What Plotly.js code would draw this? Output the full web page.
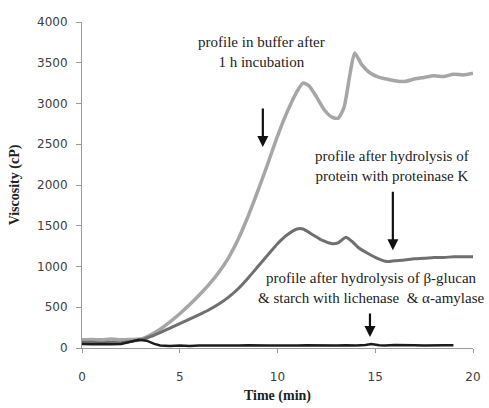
<!DOCTYPE html>
<html><head><meta charset="utf-8">
<script src="https://cdn.plot.ly/plotly-3.0.1.min.js"></script>
<style>body{margin:0;background:#fff}#chart{width:489px;height:408px}</style>
</head><body><div id="chart"></div>
<script>
// Data
const timeBuffer = [0,0.5,1,1.5,2,2.5,3,3.5,4,4.5,5,5.5,6,6.5,7,7.5,8,8.5,9,9.5,10,10.5,11,11.3,11.6,12,12.4,12.8,13.1,13.4,13.7,13.95,14.3,14.7,15.2,15.6,16,16.5,17,17.5,18,18.5,19,19.5,20];
const viscBuffer = [100,105,100,110,100,105,110,160,230,320,420,530,650,780,930,1110,1340,1620,1930,2260,2600,2900,3150,3250,3220,3080,2920,2830,2820,2950,3350,3620,3480,3380,3320,3300,3280,3270,3300,3320,3340,3330,3360,3350,3370];

const timeProtK = [0,0.5,1,1.5,2,2.5,3,3.5,4,4.5,5,5.5,6,6.5,7,7.5,8,8.5,9,9.5,10,10.5,11,11.3,11.8,12.3,12.8,13.1,13.5,13.8,14.2,14.7,15.2,15.6,16,16.5,17,17.5,18,18.5,19,19.5,20];
const viscProtK = [70,70,65,70,65,80,100,140,190,245,300,355,410,470,540,625,730,860,1000,1140,1280,1390,1460,1460,1390,1320,1280,1290,1360,1310,1220,1150,1090,1060,1070,1080,1095,1100,1110,1110,1120,1120,1120];

const timeLich = [0,0.5,1,1.5,2,2.5,2.9,3.3,3.7,4,4.5,5,5.5,6,6.5,7,7.5,8,8.5,9,9.5,10,10.5,11,11.5,12,12.5,13,13.5,14,14.5,14.8,15.2,15.5,16,16.5,17,17.5,18,18.5,19];
const viscLich = [50,45,50,45,50,80,100,90,50,30,25,30,25,30,28,32,28,30,33,28,30,32,28,30,33,30,28,32,35,30,38,50,35,32,38,32,35,30,36,33,35];

const seriesNames = ['profile in buffer after 1 h incubation','profile after hydrolysis of protein with proteinase K','profile after hydrolysis of β-glucan & starch with lichenase & α-amylase'];
const xTicks = [0,5,10,15,20];
const yTicks = [0,500,1000,1500,2000,2500,3000,3500,4000];

const traces = [
  {x: timeBuffer, y: viscBuffer, name: seriesNames[0], mode: 'lines', line: {color: '#a6a6a6', width: 3.5, shape: 'spline', smoothing: 0.6}},
  {x: timeProtK, y: viscProtK, name: seriesNames[1], mode: 'lines', line: {color: '#6f6f6f', width: 3, shape: 'spline', smoothing: 0.6}},
  {x: timeLich, y: viscLich, name: seriesNames[2], mode: 'lines', line: {color: '#1c1c1c', width: 2.5}}
];

const serif = 'Liberation Serif';
const annFont = {family: serif, size: 15, color: '#222'};
const tickFont = {family: 'DejaVu Sans', size: 12, color: '#404040'};
const layout = {
  width: 489, height: 408,
  margin: {l: 82, r: 16, t: 22, b: 60},
  paper_bgcolor: '#fff', plot_bgcolor: '#fff',
  showlegend: false,
  xaxis: {
    range: [0, 20], tickvals: xTicks, ticktext: xTicks.map(String),
    showgrid: false, zeroline: false, showline: true, linecolor: '#9a9a9a', linewidth: 1,
    ticks: 'outside', ticklen: 4, tickcolor: '#9a9a9a', ticklabelstandoff: 14,
    tickfont: tickFont,
    title: {text: 'Time (min)', font: {family: serif, size: 14, color: '#222', weight: 'bold'}, standoff: 6}
  },
  yaxis: {
    range: [0, 4000], tickvals: yTicks, ticktext: yTicks.map(String),
    showgrid: false, zeroline: false, showline: true, linecolor: '#9a9a9a', linewidth: 1,
    ticks: 'outside', ticklen: 5, tickcolor: '#9a9a9a', ticklabelstandoff: 6,
    tickfont: tickFont,
    title: {text: 'Viscosity (cP)', font: {family: serif, size: 14, color: '#222', weight: 'bold'}, standoff: 14}
  },
  annotations: [
    {x: 9.2, y: 3632, xref: 'x', yref: 'y', text: 'profile in buffer after<br>1 h incubation', showarrow: false, font: annFont, align: 'center'},
    {x: 9.25, y: 2466, xref: 'x', yref: 'y', text: '', showarrow: true, ax: 0, ay: -40, arrowhead: 2, arrowsize: 1, arrowwidth: 2.2, arrowcolor: '#111'},
    {x: 15.86, y: 2233, xref: 'x', yref: 'y', text: 'profile after hydrolysis of<br>protein with proteinase K', showarrow: false, font: annFont, align: 'center'},
    {x: 15.9, y: 1200, xref: 'x', yref: 'y', text: '', showarrow: true, ax: 0, ay: -60, arrowhead: 2, arrowsize: 1, arrowwidth: 2.2, arrowcolor: '#111'},
    {x: 14.8, y: 736, xref: 'x', yref: 'y', text: 'profile after hydrolysis of β-glucan<br>&amp; starch with lichenase  &amp; α-amylase', showarrow: false, font: annFont, align: 'center'},
    {x: 14.73, y: 135, xref: 'x', yref: 'y', text: '', showarrow: true, ax: 0, ay: -25, arrowhead: 2, arrowsize: 1, arrowwidth: 2.2, arrowcolor: '#111'}
  ]
};
Plotly.newPlot('chart', traces, layout, {displayModeBar: false, staticPlot: true});
</script></body></html>
